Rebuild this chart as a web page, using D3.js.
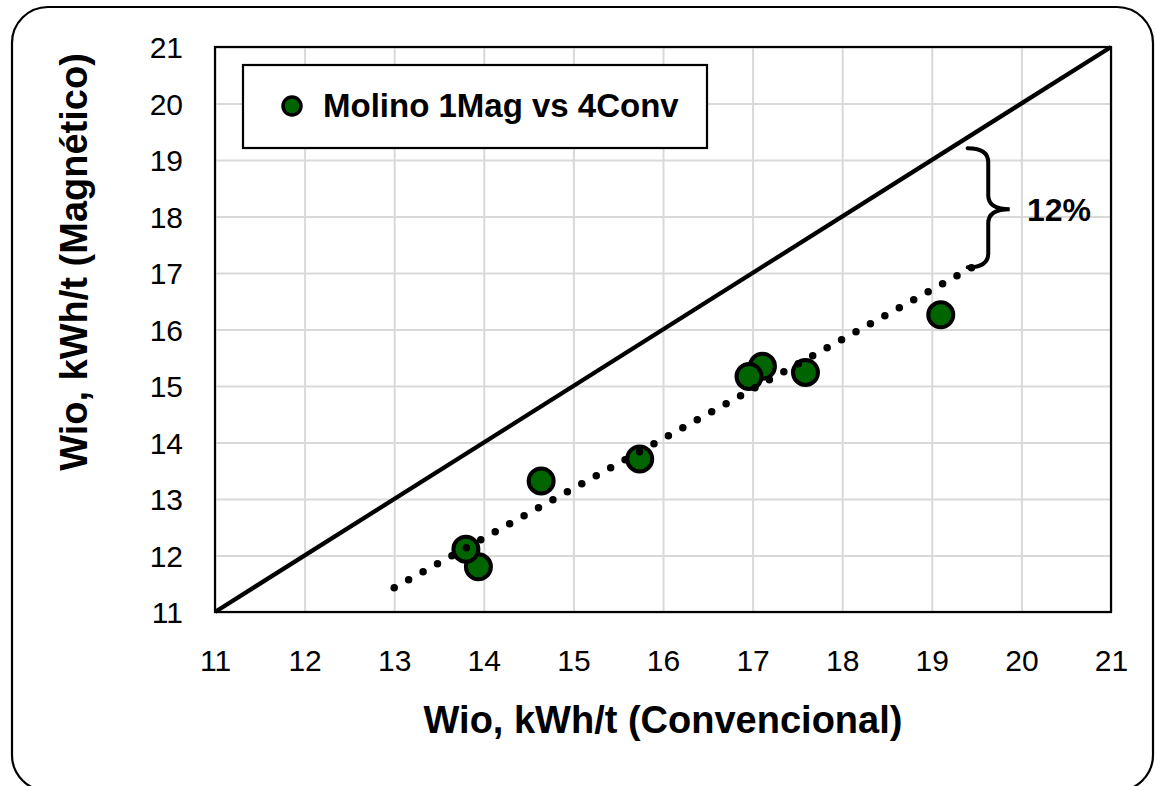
<!DOCTYPE html>
<html>
<head>
<meta charset="utf-8">
<script src="https://cdn.jsdelivr.net/npm/d3@7"></script>
<style>
  body { margin: 0; background: #fff; }
  text { font-family: "Liberation Sans", Arial, sans-serif; fill: #000; }
</style>
</head>
<body>
<svg id="chart" width="1155" height="786"></svg>
<script>
// values
var convencional = [13.94, 13.80, 14.64, 15.74, 17.11, 16.96, 17.59, 19.10];
var magnetico = [11.80, 12.11, 13.32, 13.71, 15.35, 15.17, 15.24, 16.26];
var tickValues = [11, 12, 13, 14, 15, 16, 17, 18, 19, 20, 21];
var trendX = [13.0, 19.45];
var trendY = [11.43, 17.10];
var identityLine = [11, 21];
var seriesName = "Molino 1Mag vs 4Conv";
var gapLabel = "12%";
var braceTopY = 19.21, braceMidY = 18.13, braceBottomY = 17.10;
var braceLeftX = 19.40, braceSpineX = 19.63, braceTipX = 19.87;

var svg = d3.select("#chart");

var plotLeft = 215, plotRight = 1111, plotTop = 47, plotBottom = 612;

var x = d3.scaleLinear().domain([11, 21]).range([plotLeft, plotRight]);
var y = d3.scaleLinear().domain([11, 21]).range([plotBottom, plotTop]);

// outer rounded frame
svg.append("rect")
  .attr("x", 12).attr("y", 7)
  .attr("width", 1141).attr("height", 784)
  .attr("rx", 36).attr("ry", 36)
  .attr("fill", "#fff")
  .attr("stroke", "#000")
  .attr("stroke-width", 2.2);

// grid
svg.append("g")
  .attr("transform", "translate(0," + plotBottom + ")")
  .call(d3.axisBottom(x).tickValues(tickValues).tickSize(-(plotBottom - plotTop)).tickFormat(""))
  .call(function (g) { g.select(".domain").remove(); })
  .selectAll("line").attr("stroke", "#d9d9d9").attr("stroke-width", 2);

svg.append("g")
  .attr("transform", "translate(" + plotLeft + ",0)")
  .call(d3.axisLeft(y).tickValues(tickValues).tickSize(-(plotRight - plotLeft)).tickFormat(""))
  .call(function (g) { g.select(".domain").remove(); })
  .selectAll("line").attr("stroke", "#d9d9d9").attr("stroke-width", 2);

// tick labels
svg.append("g")
  .attr("transform", "translate(0," + plotBottom + ")")
  .call(d3.axisBottom(x).tickValues(tickValues).tickSize(0).tickPadding(0))
  .call(function (g) { g.select(".domain").remove(); })
  .selectAll("text")
  .attr("y", 59).attr("dy", null)
  .style("font-size", "30px");

svg.append("g")
  .attr("transform", "translate(" + plotLeft + ",0)")
  .call(d3.axisLeft(y).tickValues(tickValues).tickSize(0).tickPadding(0))
  .call(function (g) { g.select(".domain").remove(); })
  .selectAll("text")
  .attr("x", -32).attr("dy", "0.36em")
  .style("font-size", "30px");

// 1:1 line
svg.append("line")
  .attr("x1", x(identityLine[0])).attr("y1", y(identityLine[0]))
  .attr("x2", x(identityLine[1])).attr("y2", y(identityLine[1]))
  .attr("stroke", "#000").attr("stroke-width", 4.3);

// points
svg.append("g").selectAll("circle")
  .data(convencional)
  .enter().append("circle")
  .attr("cx", function (d) { return x(d); })
  .attr("cy", function (d, i) { return y(magnetico[i]); })
  .attr("r", 12.5)
  .attr("fill", "#006400")
  .attr("stroke", "#000")
  .attr("stroke-width", 4);

// dotted trendline
svg.append("line")
  .attr("x1", x(trendX[0])).attr("y1", y(trendY[0]))
  .attr("x2", x(trendX[1])).attr("y2", y(trendY[1]))
  .attr("stroke", "#000").attr("stroke-width", 7.5)
  .attr("stroke-linecap", "round")
  .attr("stroke-dasharray", "0 16.5");

// plot border
svg.append("rect")
  .attr("x", plotLeft).attr("y", plotTop)
  .attr("width", plotRight - plotLeft).attr("height", plotBottom - plotTop)
  .attr("fill", "none").attr("stroke", "#000").attr("stroke-width", 2.2);

// brace + label
var xl = x(braceLeftX), xs = x(braceSpineX), xt = x(braceTipX);
var yt = y(braceTopY), ym = y(braceMidY), yb = y(braceBottomY);
var r = 14;
var p = d3.path();
p.moveTo(xl, yt);
p.quadraticCurveTo(xs, yt, xs, yt + r);
p.lineTo(xs, ym - r);
p.quadraticCurveTo(xs, ym, xt, ym);
p.quadraticCurveTo(xs, ym, xs, ym + r);
p.lineTo(xs, yb - r);
p.quadraticCurveTo(xs, yb, xl, yb);
svg.append("path")
  .attr("d", p.toString())
  .attr("fill", "none").attr("stroke", "#000").attr("stroke-width", 4)
  .attr("stroke-linecap", "round");

svg.append("text")
  .attr("x", 1027).attr("y", 221)
  .style("font-size", "32px").style("font-weight", "bold")
  .text(gapLabel);

// legend
var legend = svg.append("g");
legend.append("rect")
  .attr("x", 243).attr("y", 65)
  .attr("width", 464).attr("height", 83)
  .attr("fill", "#fff").attr("stroke", "#000").attr("stroke-width", 2.2);
legend.append("circle")
  .attr("cx", 292).attr("cy", 106).attr("r", 9)
  .attr("fill", "#006400").attr("stroke", "#000").attr("stroke-width", 3.5);
legend.append("text")
  .attr("x", 323).attr("y", 117)
  .style("font-size", "33px").style("font-weight", "bold")
  .text(seriesName);

// axis titles
svg.append("text")
  .attr("x", (plotLeft + plotRight) / 2).attr("y", 733)
  .attr("text-anchor", "middle")
  .style("font-size", "38px").style("font-weight", "bold")
  .text("Wio, kWh/t (Convencional)");

svg.append("text")
  .attr("transform", "translate(87,262) rotate(-90)")
  .attr("text-anchor", "middle")
  .style("font-size", "38px").style("font-weight", "bold")
  .text("Wio, kWh/t (Magnético)");
</script>
</body>
</html>
